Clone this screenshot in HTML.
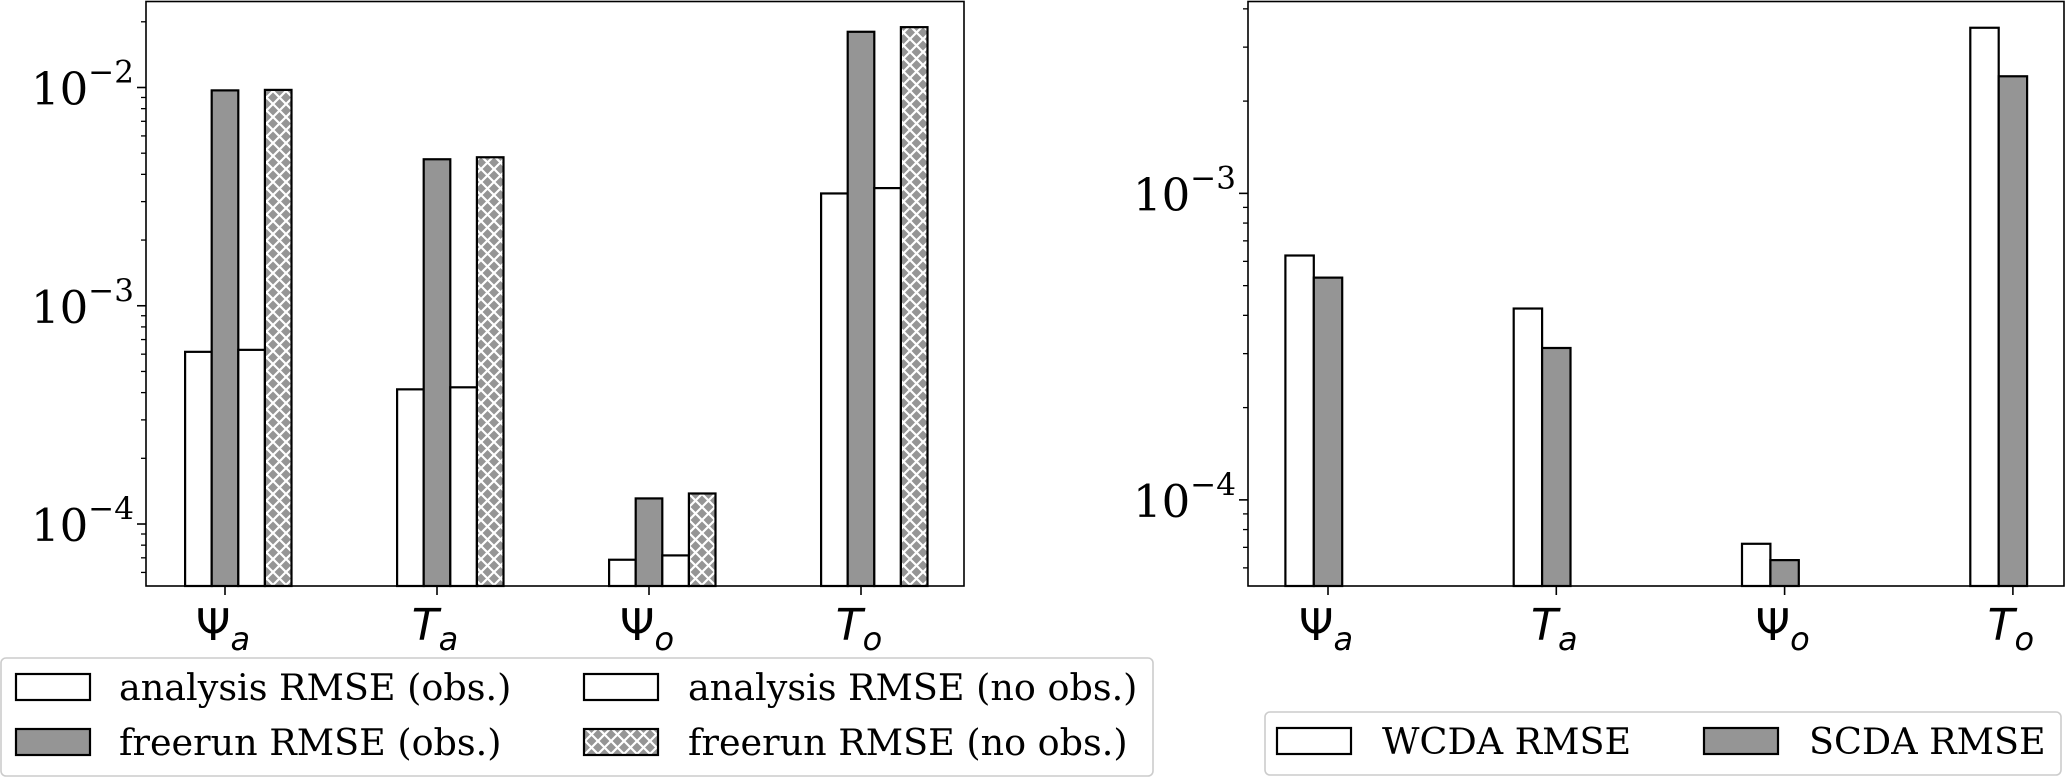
<!DOCTYPE html>
<html><head><meta charset="utf-8"><style>
html,body{margin:0;padding:0;background:#fff;}
svg{display:block;}
text{font-family:"DejaVu Serif","Liberation Serif",serif;fill:#000;}
.xl{font-family:"DejaVu Sans","Liberation Sans",sans-serif;}
</style></head><body>
<svg id="c" width="2067" height="778" viewBox="0 0 2067 778">
<defs>
<pattern id="hx" patternUnits="userSpaceOnUse" width="13" height="13">
<rect width="13" height="13" fill="#959595"/>
<path d="M0,0L13,13M13,0L0,13" stroke="#fff" stroke-width="2.2"/>
</pattern>
</defs>
</svg>
<script>
const categories = ["Ψa","Ta","Ψo","To"];
const anaObs = [6.15e-4, 4.14e-4, 6.86e-5, 3.27e-3];
const freeObs = [9.7e-3, 4.69e-3, 1.31e-4, 1.80e-2];
const anaNoObs = [6.28e-4, 4.23e-4, 7.18e-5, 3.46e-3];
const freeNoObs = [9.75e-3, 4.79e-3, 1.38e-4, 1.89e-2];
const wcda = [6.27e-4, 4.21e-4, 7.19e-5, 3.47e-3];
const scda = [5.31e-4, 3.13e-4, 6.36e-5, 2.41e-3];
const leftTicks = [-4,-3,-2];
const rightTicks = [-4,-3];
const leftLegend = ["analysis RMSE (obs.)","freerun RMSE (obs.)","analysis RMSE (no obs.)","freerun RMSE (no obs.)"];
const rightLegend = ["WCDA RMSE","SCDA RMSE"];

const svg = document.getElementById('c');
const NS = "http://www.w3.org/2000/svg";
function mk(tag, attrs, parent){
  const e=document.createElementNS(NS,tag);
  for(const k in attrs) e.setAttribute(k,attrs[k]);
  (parent||svg).appendChild(e); return e;
}

function drawAxes(ax, series, fills, names, ticks, minorFrom, minorTo){
  const yS = v => ax.y0 - (Math.log10(v) - ax.lmin)/(ax.lmax-ax.lmin)*(ax.y0-ax.y1);
  const xC = i => ax.c0 + i*ax.sp;
  const w = ax.bw;
  series.forEach((arr,s)=>{
    arr.forEach((v,i)=>{
      const x = xC(i) - 1.5*w + s*w;
      const y = yS(v);
      const r = mk('rect',{x:x,y:y,width:w,height:ax.y0-y,fill:fills[s],stroke:'#000','stroke-width':2.2});
      
      
    });
  });
  const f = mk('rect',{x:ax.x0,y:ax.y1,width:ax.x1-ax.x0,height:ax.y0-ax.y1,fill:'none',stroke:'#000','stroke-width':1.6});
  
  
  for(let d=minorFrom; d<=minorTo; d++){
    for(let m=2;m<=9;m++){
      const v=m*Math.pow(10,d); const y=yS(v);
      if(y<ax.y1||y>ax.y0) continue;
      mk('line',{x1:ax.x0-5,x2:ax.x0,y1:y,y2:y,stroke:'#000','stroke-width':1.3});
    }
  }
  ticks.forEach(t=>{
    const y=yS(Math.pow(10,t));
    mk('line',{x1:ax.x0-9,x2:ax.x0,y1:y,y2:y,stroke:'#000','stroke-width':1.6});
    const tx=mk('text',{x:ax.x0-12,y:y+17,'font-size':45,'text-anchor':'end'});
    
    
    tx.innerHTML='10<tspan dy="-22" font-size="31">−'+(-t)+'</tspan>';
  });
  categories.forEach((c,i)=>{
    const x=xC(i);
    mk('line',{x1:x,x2:x,y1:ax.y0,y2:ax.y0+9,stroke:'#000','stroke-width':1.6});
    const tx=mk('text',{x:x-2,y:ax.y0+54,'font-size':44,'text-anchor':'middle','class':'xl'});
    
    
    const main=c[0], sub=c[1];
    tx.innerHTML=(main==='T'?'<tspan font-style="italic">T</tspan>':main)+'<tspan dy="10" font-size="32" font-style="italic">'+sub+'</tspan>';
  });
}

drawAxes({name:'left-axes',x0:146,x1:964,y0:586,y1:1.5,lmin:-4.284,lmax:-1.606,c0:225,sp:212,bw:26.6},
  [anaObs,freeObs,anaNoObs,freeNoObs],['#fff','#959595','#fff','url(#hx)'],
  ['analysis-obs','freerun-obs','analysis-noobs','freerun-noobs'],leftTicks,-5,-2);
drawAxes({name:'right-axes',x0:1248,x1:2064,y0:586,y1:1.5,lmin:-4.281,lmax:-2.374,c0:1328,sp:228.3,bw:28.4},
  [wcda,scda],['#fff','#959595'],['wcda','scda'],rightTicks,-5,-3);

function legend(name,box,items){
  const b=mk('rect',{x:box[0],y:box[1],width:box[2],height:box[3],rx:5,fill:'#fff',stroke:'#ccc','stroke-width':1.6});
  
  
  items.forEach(it=>{
    const p=mk('rect',{x:it.px,y:it.py-13,width:74,height:26,fill:it.fill,stroke:'#000','stroke-width':2.2});
    
    
    const t=mk('text',{x:it.tx,y:it.py+13,'font-size':36.5});
    
    
    t.textContent=it.label;
  });
}
legend('left-legend',[1,658,1152,118],[
  {px:16,py:687,tx:119,fill:'#fff',label:leftLegend[0]},
  {px:16,py:742,tx:119,fill:'#959595',label:leftLegend[1]},
  {px:584,py:687,tx:688,fill:'#fff',label:leftLegend[2]},
  {px:584,py:742,tx:688,fill:'url(#hx)',label:leftLegend[3]}]);
legend('right-legend',[1265,712,796,63],[
  {px:1277,py:741,tx:1382,fill:'#fff',label:rightLegend[0]},
  {px:1704,py:741,tx:1809,fill:'#959595',label:rightLegend[1]}]);
</script>
</body></html>
